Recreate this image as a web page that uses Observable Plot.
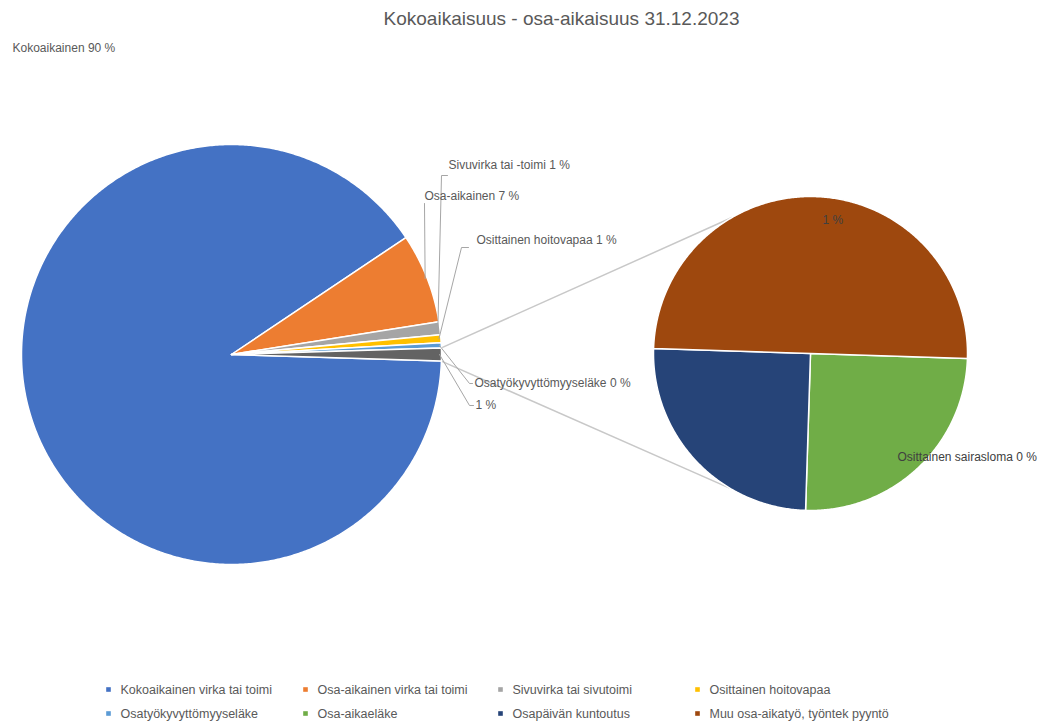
<!DOCTYPE html>
<html>
<head>
<meta charset="utf-8">
<script src="https://cdn.jsdelivr.net/npm/d3@7"></script>
<script src="https://cdn.jsdelivr.net/npm/@observablehq/plot@0.6"></script>
<style>
  html, body { margin: 0; padding: 0; background: #fff; }
  #chart { width: 1041px; height: 722px; }
</style>
</head>
<body>
<div id="chart"></div>
<script>
// ---- Data ----
const title = "Kokoaikaisuus - osa-aikaisuus 31.12.2023";
const mainNames = ["Kokoaikainen virka tai toimi", "Osa-aikainen virka tai toimi", "Sivuvirka tai sivutoimi", "Osittainen hoitovapaa", "Osatyökyvyttömyyseläke"];
const mainValues = [90.1, 6.9, 1.0, 0.6, 0.4];
const mainLabels = ["Kokoaikainen 90 %", "Osa-aikainen 7 %", "Sivuvirka tai -toimi 1 %", "Osittainen hoitovapaa 1 %", "Osatyökyvyttömyyseläke 0 %"];
const subNames = ["Osa-aikaeläke", "Osapäivän kuntoutus", "Muu osa-aikatyö, työntek pyyntö"];
const subValues = [0.25, 0.25, 0.5];
const subLabels = ["Osittainen sairasloma 0 %", "", "1 %"];
const otherName = "Muut";
const otherLabel = "1 %";
const mainColors = ["#4472C4", "#ED7D31", "#A5A5A5", "#FFC000", "#5B9BD5"];
const subColors = ["#70AD47", "#264478", "#9E480E"];
const otherColor = "#636363";

// ---- Layout ----
const W = 1041, H = 722;
const mainPie = {cx: 231, cy: 354, r: 210};
const subPie = {cx: 810, cy: 353, r: 157};
const subStart = 91.8 * Math.PI / 180;
const subJoin = [330 * Math.PI / 180, 211 * Math.PI / 180];
const mainLabelPos = [[12, 48], [424, 196], [448, 165], [476, 240], [474, 383]];
const mainLeaderPts = [null, [[424, 203]], [[441, 175], [447, 175]], [[461, 247], [468, 247]], [[469, 383], [472, 383]]];
const otherLabelPos = [475, 405];
const otherLeaderPts = [[469, 405], [473, 405]];
const subLabelPos = [[897, 457], null, [822, 220]];
const legendColX = [108, 305, 500, 697];
const legendRowY = [689, 713];

// ---- Geometry helpers ----
const pt = (c, a, rr = c.r) => [c.cx + rr * Math.sin(a), c.cy - rr * Math.cos(a)];
function arcPoly(c, a0, a1, name) {
  const pts = [{x: c.cx, y: c.cy, name}];
  const n = Math.max(2, Math.ceil(Math.abs(a1 - a0) / (0.5 * Math.PI / 180)));
  for (let i = 0; i <= n; i++) {
    const a = a0 + (a1 - a0) * i / n;
    const [x, y] = pt(c, a);
    pts.push({x, y, name});
  }
  return pts;
}

const otherValue = d3.sum(subValues);
const mainData = mainNames.map((n, i) => ({name: n, value: mainValues[i]})).concat([{name: otherName, value: otherValue}]);
const total = d3.sum(mainData, d => d.value);
const oSpan = 2 * Math.PI * otherValue / total;
const mainStart = -1.5 * Math.PI + oSpan / 2;
const mainArcs = d3.pie().sort(null).value(d => d.value).startAngle(mainStart).endAngle(mainStart + 2 * Math.PI)(mainData);
const subData = subNames.map((n, i) => ({name: n, value: subValues[i]}));
const subArcs = d3.pie().sort(null).value(d => d.value).startAngle(subStart).endAngle(subStart + 2 * Math.PI)(subData);

const slicePts = [];
mainArcs.forEach(a => slicePts.push(...arcPoly(mainPie, a.startAngle, a.endAngle, a.data.name)));
subArcs.forEach(a => slicePts.push(...arcPoly(subPie, a.startAngle, a.endAngle, a.data.name)));

// leaders
const leaders = [];
mainArcs.forEach((a, i) => {
  let extra = i < mainNames.length ? mainLeaderPts[i] : otherLeaderPts;
  if (!extra) return;
  const mid = (a.startAngle + a.endAngle) / 2;
  const [x0, y0] = pt(mainPie, mid, mainPie.r - 2);
  leaders.push({x: x0, y: y0, k: i});
  extra.forEach(([x, y]) => leaders.push({x, y, k: i}));
});

// connectors
const otherArc = mainArcs[mainArcs.length - 1];
const conn = [
  {p: pt(mainPie, otherArc.startAngle), q: pt(subPie, subJoin[0])},
  {p: pt(mainPie, otherArc.endAngle), q: pt(subPie, subJoin[1])}
];

// texts
const texts = [];
mainLabels.forEach((t, i) => texts.push({x: mainLabelPos[i][0], y: mainLabelPos[i][1], text: t}));
texts.push({x: otherLabelPos[0], y: otherLabelPos[1], text: otherLabel});
const subTexts = [];
subLabels.forEach((t, i) => { if (t && subLabelPos[i]) subTexts.push({x: subLabelPos[i][0], y: subLabelPos[i][1], text: t}); });

const allNames = [...mainNames, ...subNames];
const allColors = [...mainColors, ...subColors];
const legend = allNames.map((n, i) => ({name: n, x: legendColX[i % 4], y: legendRowY[Math.floor(i / 4)]}));

const FONT = "'Liberation Sans', 'DejaVu Sans', sans-serif";
const chart = Plot.plot({
  width: W, height: H,
  margin: 0,
  x: {domain: [0, W], range: [0, W], axis: null},
  y: {domain: [0, H], range: [0, H], axis: null},
  color: {domain: [...allNames, otherName], range: [...allColors, otherColor]},
  style: {background: "#fff", fontFamily: FONT, overflow: "visible"},
  marks: [
    Plot.link(conn, {x1: d => d.p[0], y1: d => d.p[1], x2: d => d.q[0], y2: d => d.q[1], stroke: "#c8c8c8", strokeWidth: 1.5}),
    Plot.line(slicePts, {x: "x", y: "y", z: "name", fill: "name", stroke: "#fff", strokeWidth: 1.5, curve: "linear-closed"}),
    Plot.line(leaders, {x: "x", y: "y", z: "k", stroke: "#a6a6a6", strokeWidth: 1}),
    Plot.text(texts, {x: "x", y: "y", text: "text", textAnchor: "start", fontSize: 12, fill: "#595959"}),
    Plot.text(subTexts, {x: "x", y: "y", text: "text", textAnchor: "start", fontSize: 12, fill: "#404040"}),
    Plot.text([title], {x: () => 561, y: () => 18, text: d => d, textAnchor: "middle", fontSize: 19, fill: "#595959"}),
    Plot.dot(legend, {x: "x", y: "y", fill: "name", symbol: "square", r: 2.6}),
    Plot.text(legend, {x: d => d.x + 12, y: "y", text: "name", textAnchor: "start", fontSize: 12.5, fill: "#595959"})
  ]
});
document.getElementById("chart").appendChild(chart);
</script>
</body>
</html>
